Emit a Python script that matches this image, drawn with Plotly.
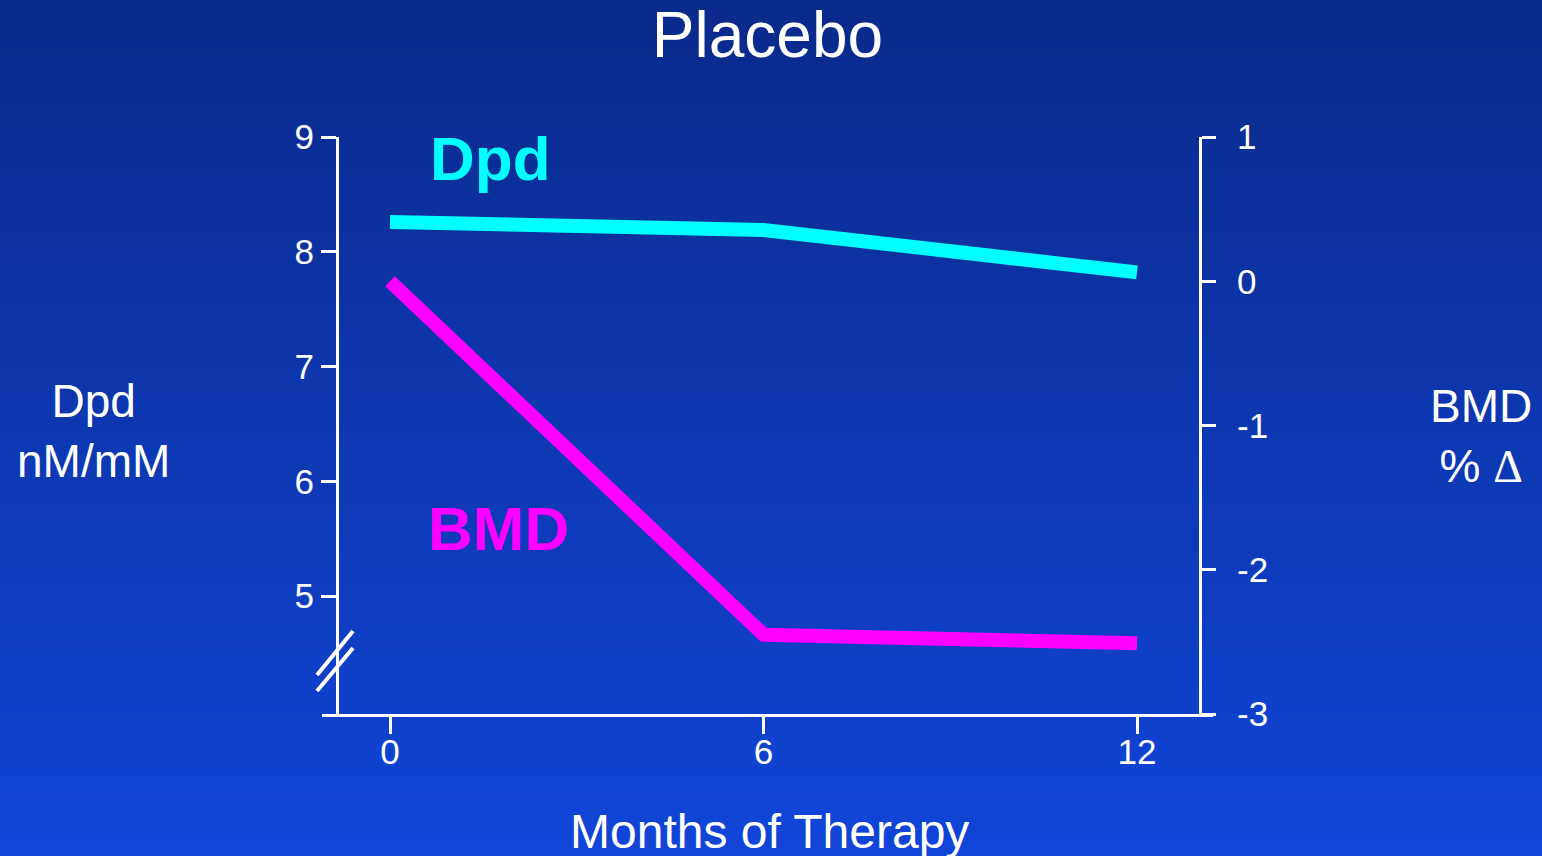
import plotly.graph_objects as go

# ---- data ----
months = [0, 6, 12]
dpd_values = [8.26, 8.19, 7.82]      # nM/mM (left axis)
bmd_values = [0.0, -2.45, -2.51]     # % change (right axis)
x_ticks = [0, 6, 12]
x_tick_text = ["0", "6", "12"]
left_ticks = [5, 6, 7, 8, 9]
left_tick_text = ["5", "6", "7", "8", "9"]
right_ticks = [-3, -2, -1, 0, 1]
right_tick_text = ["-3", "-2", "-1", "0", "1"]

FONT = "Liberation Sans, Arial, sans-serif"
W, H = 1542, 856
ML, MR, MT, MB = 322, 329, 137, 142
PW, PH = W - ML - MR, H - MT - MB

def px(xp):
    return (xp - ML) / PW

def py(yp):
    return (H - MB - yp) / PH

fig = go.Figure()
fig.add_trace(go.Scatter(x=months, y=dpd_values, mode="lines",
                         line=dict(color="#00ffff", width=14), yaxis="y", name="Dpd"))
fig.add_trace(go.Scatter(x=months, y=bmd_values, mode="lines",
                         line=dict(color="#ff00ff", width=14), yaxis="y2", name="BMD"))

# gradient background as bands
shapes = []
n = 120
top = (10, 42, 138)
bot = (16, 69, 216)
for i in range(n):
    t = (i + 0.5) / n
    c = tuple(round(top[k] + (bot[k] - top[k]) * t) for k in range(3))
    y0p = i * H / n
    y1p = (i + 1) * H / n + 1
    shapes.append(dict(type="rect", xref="paper", yref="paper",
                       x0=px(-2), x1=px(W + 2), y0=py(y1p), y1=py(y0p),
                       fillcolor="rgb(%d,%d,%d)" % c, line=dict(width=0), layer="below"))
# axis break marks
for (xa, ya, xb, yb) in [(317, 675, 353, 631), (317, 691, 353, 648)]:
    shapes.append(dict(type="line", xref="paper", yref="paper",
                       x0=px(xa), y0=py(ya), x1=px(xb), y1=py(yb),
                       line=dict(color="white", width=4), layer="above"))

axis_common = dict(showgrid=False, zeroline=False, showline=True, linecolor="white",
                   linewidth=3, ticks="outside", tickcolor="white", tickwidth=3,
                   tickfont=dict(family=FONT, size=35, color="white"))

def ann(text, xp, yp, size, color, bold=False):
    return dict(text=("<b>%s</b>" % text) if bold else text, x=px(xp), y=py(yp),
                xref="paper", yref="paper", xanchor="center", yanchor="middle",
                showarrow=False, font=dict(family=FONT, size=size, color=color))

fig.update_layout(
    width=W, height=H,
    margin=dict(l=ML, r=MR, t=MT, b=MB),
    paper_bgcolor="#0c38b4", plot_bgcolor="rgba(0,0,0,0)",
    showlegend=False,
    shapes=shapes,
    title=dict(text="Placebo", x=0.5, xref="paper", xanchor="center",
               y=1 - 35 / H, yanchor="middle",
               font=dict(family=FONT, size=64, color="white")),
    xaxis=dict(range=[(322 - 390) / 62.25, (1213 - 390) / 62.25],
               tickvals=x_ticks, ticktext=x_tick_text, ticklen=17, domain=[0, 1],
               ticklabelstandoff=-12, **axis_common),
    yaxis=dict(range=[9 - (714 - 137) / 114.75, 9], tickvals=left_ticks,
               ticktext=left_tick_text, ticklen=15,
               anchor="free", position=px(337), side="left", **axis_common),
    yaxis2=dict(range=[-3, 1], tickvals=right_ticks, ticktext=right_tick_text,
                ticklen=14, overlaying="y",
                anchor="free", position=px(1200), side="right",
                ticklabelstandoff=14, **axis_common),
    annotations=[
        ann("Dpd", 490, 158, 62, "#00ffff", bold=True),
        ann("BMD", 498, 528, 62, "#ff00ff", bold=True),
        ann("Dpd<br>nM/mM", 93, 431, 46, "white"),
        ann("BMD<br>% <span style='font-family:Liberation Serif, Times New Roman, serif'>Δ</span>",
            1481, 436, 46, "white"),
        ann("Months of Therapy", 769, 831, 48, "white"),
    ],
)

fig.write_html("out.html",
               config={"displayModeBar": False},
               post_script="document.body.style.margin='0';"
                           "document.body.style.overflow='hidden';"
                           "document.body.style.background='#0c38b4';")
